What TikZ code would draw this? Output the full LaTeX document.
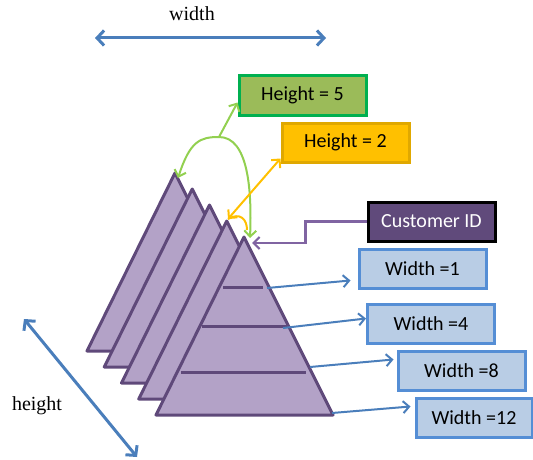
\documentclass[tikz,border=0pt]{standalone}
\usepackage{fontspec}
\setmainfont{Liberation Serif}
\newfontfamily\boxfont{Carlito}
\usetikzlibrary{arrows.meta}

\definecolor{trifill}{HTML}{B3A2C7}
\definecolor{triline}{HTML}{5F497A}
\definecolor{wfill}{HTML}{B9CDE5}
\definecolor{wline}{HTML}{558ED5}
\definecolor{arrowblue}{HTML}{4A7EBB}
\definecolor{hgreen}{HTML}{9BBB59}
\definecolor{hgreenline}{HTML}{00B050}
\definecolor{lightgreen}{HTML}{92D050}
\definecolor{gold}{HTML}{FFC000}
\definecolor{goldline}{HTML}{E0A800}
\definecolor{cidfill}{HTML}{604A7B}
\definecolor{cidline}{HTML}{8064A2}

\tikzstyle{layer} = [
draw=triline,
line width=3pt,
line join=round,
fill=trifill
]
\tikzstyle{level} = [
draw=triline,
line width=3pt
]
\tikzstyle{widthbox} = [
rectangle,
minimum width=127pt,
minimum height=39pt,
text centered,
draw=wline,
line width=3pt,
fill=wfill,
font=\boxfont\fontsize{20}{24}\selectfont
]
\tikzstyle{heightbox} = [
widthbox,
fill=hgreen,
draw=hgreenline
]
\tikzstyle{keybox} = [
widthbox,
fill=cidfill,
draw=black,
text=white
]
\tikzstyle{arrow} = [
line width=2pt,
draw=arrowblue,
-{Straight Barb[length=6pt,width=12pt]}
]
\tikzstyle{dim} = [
line width=3pt,
draw=arrowblue,
{Straight Barb[length=7pt,width=15pt]}-{Straight Barb[length=7pt,width=15pt]}
]

\begin{document}
\begin{tikzpicture}[x=1pt,y=1pt]

\useasboundingbox (0,0) rectangle (533,459);

% apexes of the five layers, back to front
\coordinate (t0) at (175,286);
\coordinate (t1) at (192.25,270);
\coordinate (t2) at (209.5,254);
\coordinate (t3) at (226.75,238);
\coordinate (t4) at (244,222);

\draw [layer] (t0) -- ++(-88,-178) -- ++(177,0) -- cycle;
\draw [layer] (t1) -- ++(-88,-178) -- ++(177,0) -- cycle;
\draw [layer] (t2) -- ++(-88,-178) -- ++(177,0) -- cycle;
\draw [layer] (t3) -- ++(-88,-178) -- ++(177,0) -- cycle;
\draw [layer] (t4) -- ++(-88,-178) -- ++(177,0) -- cycle;

% levels of the front layer
\draw [level] (223,172) -- (263,172);
\draw [level] (202,133) -- (287,133);
\draw [level] (181,87) -- (306,87);

\coordinate (e1) at (267,171);
\coordinate (e2) at (283,131);
\coordinate (e3) at (310,92);
\coordinate (e4) at (332,46);

\node (w1) [widthbox] at (422.5,190.5) {Width =1};
\node (w4) [widthbox] at (431,135.5) {Width =4};
\node (w8) [widthbox] at (461.5,88.5) {Width =8};
\node (w12) [widthbox, minimum width=116pt] at (474,41.5) {Width =12};

\node (cid) [keybox] at (431.5,237.5) {Customer ID};
\node (h5) [heightbox] at (302.5,363.5) {Height = 5};
\node (h2) [heightbox, fill=gold, draw=goldline] at (345.5,316.5) {Height = 2};

\draw [arrow] (e1) -- ([xshift=-7pt,yshift=-12pt]w1.west);
\draw [arrow] (e2) -- ([yshift=5pt]w4.west);
\draw [arrow] (e3) -- ([xshift=-3pt,yshift=11pt]w8.west);
\draw [arrow] (e4) -- ([xshift=-4pt,yshift=11pt]w12.west);

% customer id points at the front layer
\coordinate (cidtip) at (252,216);
\draw [arrow, draw=cidline, line width=2.2pt]
(cid.west) -- ++(-61,0) |- (cidtip);

% height = 5 spans all layers
\coordinate (gtop) at (219,322);
\draw [arrow, draw=lightgreen]
(gtop) -- ([yshift=-7pt]h5.west);
\draw [arrow, draw=lightgreen,
{Straight Barb[length=6pt,width=12pt]}-{Straight Barb[length=6pt,width=12pt]}]
([shift={(3pt,-5pt)}]t0) .. controls (190,318) and (200,322) .. (gtop)
.. controls (248,322) and (252,270) .. ([shift={(6pt,-1pt)}]t4);

% height = 2 between the last two layers
\coordinate (otip) at (228,240);
\draw [arrow, draw=gold,
{Straight Barb[length=6pt,width=12pt]}-{Straight Barb[length=6pt,width=12pt]}]
(otip) -- ([yshift=5pt]h2.south west);
\draw [draw=gold, line width=2pt]
(otip) .. controls (240,247) and (247,240) .. (247,229);

% dimensions
\draw [dim] (95,421) -- (326,421);
\node (wlabel) at (192,445) {\fontsize{20}{24}\selectfont width};
\draw [dim] (24,140) -- (137,2);
\node (hlabel) at (37,53) {\fontsize{20}{24}\selectfont height};

\end{tikzpicture}
\end{document}
